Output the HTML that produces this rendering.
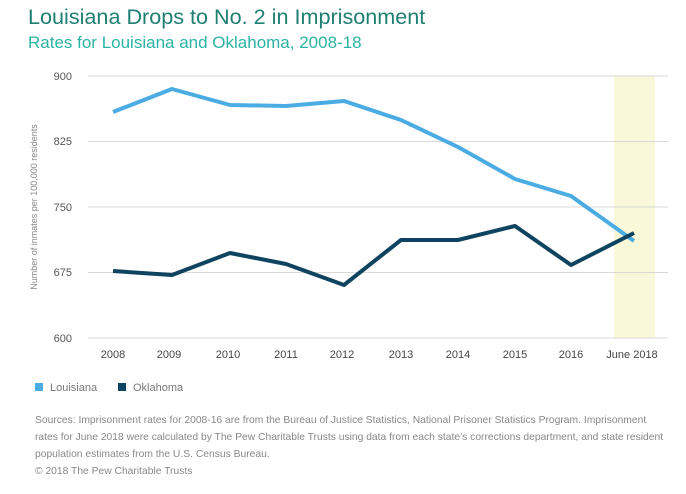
<!DOCTYPE html>
<html><head><meta charset="utf-8"><style>
body{margin:0;background:#fff;width:686px;height:489px;overflow:hidden;font-family:"Liberation Sans",sans-serif;}
</style></head><body>
<svg width="686" height="489" xmlns="http://www.w3.org/2000/svg" font-family="Liberation Sans, sans-serif">
<text x="28" y="24" font-size="21.6" fill="#1f7f72">Louisiana Drops to No. 2 in Imprisonment</text>
<text x="28" y="48" font-size="17" fill="#2bb3a3">Rates for Louisiana and Oklahoma, 2008-18</text>
<rect x="614" y="76" width="41" height="262" fill="#f9f8d8"/>
<g stroke="#d8d8d8" stroke-width="1">
<line x1="88" y1="76" x2="668" y2="76"/><line x1="88" y1="141.5" x2="668" y2="141.5"/>
<line x1="88" y1="207" x2="668" y2="207"/><line x1="88" y1="272.5" x2="668" y2="272.5"/>
<line x1="88" y1="338" x2="668" y2="338"/></g>
<g font-size="11" fill="#555" text-anchor="end">
<text x="72" y="80">900</text><text x="72" y="145">825</text><text x="72" y="211">750</text><text x="72" y="276">675</text><text x="72" y="342">600</text></g>
<text transform="translate(37,207) rotate(-90)" font-size="9" fill="#888" text-anchor="middle">Number of inmates per 100,000 residents</text>
<g font-size="11" fill="#444" text-anchor="middle">
<text x="113" y="358">2008</text><text x="169" y="358">2009</text><text x="228" y="358">2010</text><text x="286" y="358">2011</text><text x="342" y="358">2012</text><text x="401" y="358">2013</text><text x="458" y="358">2014</text><text x="515" y="358">2015</text><text x="571" y="358">2016</text><text x="632" y="358">June 2018</text></g>
<polyline fill="none" stroke="#4aace3" stroke-width="4" stroke-linejoin="round" points="113,112 172,89 230,105 286,106 344,101 401,120 458,147 515,179 571,196 634,241"/>
<polyline fill="none" stroke="#0f4460" stroke-width="4" stroke-linejoin="round" points="113,271 172,275 230,253 286,264 344,285 401,240 458,240 515,226 571,265 634,233"/>
<rect x="35" y="383" width="8" height="8" fill="#4aace3"/><text x="50" y="391" font-size="11" fill="#777">Louisiana</text>
<rect x="118" y="383" width="8" height="8" fill="#0f4460"/><text x="133" y="391" font-size="11" fill="#777">Oklahoma</text>
<g font-size="10.3" fill="#888">
<text x="35" y="423">Sources: Imprisonment rates for 2008-16 are from the Bureau of Justice Statistics, National Prisoner Statistics Program. Imprisonment</text>
<text x="35" y="440">rates for June 2018 were calculated by The Pew Charitable Trusts using data from each state’s corrections department, and state resident</text>
<text x="35" y="457">population estimates from the U.S. Census Bureau.</text>
<text x="35" y="474">© 2018 The Pew Charitable Trusts</text></g>
</svg>
</body></html>
